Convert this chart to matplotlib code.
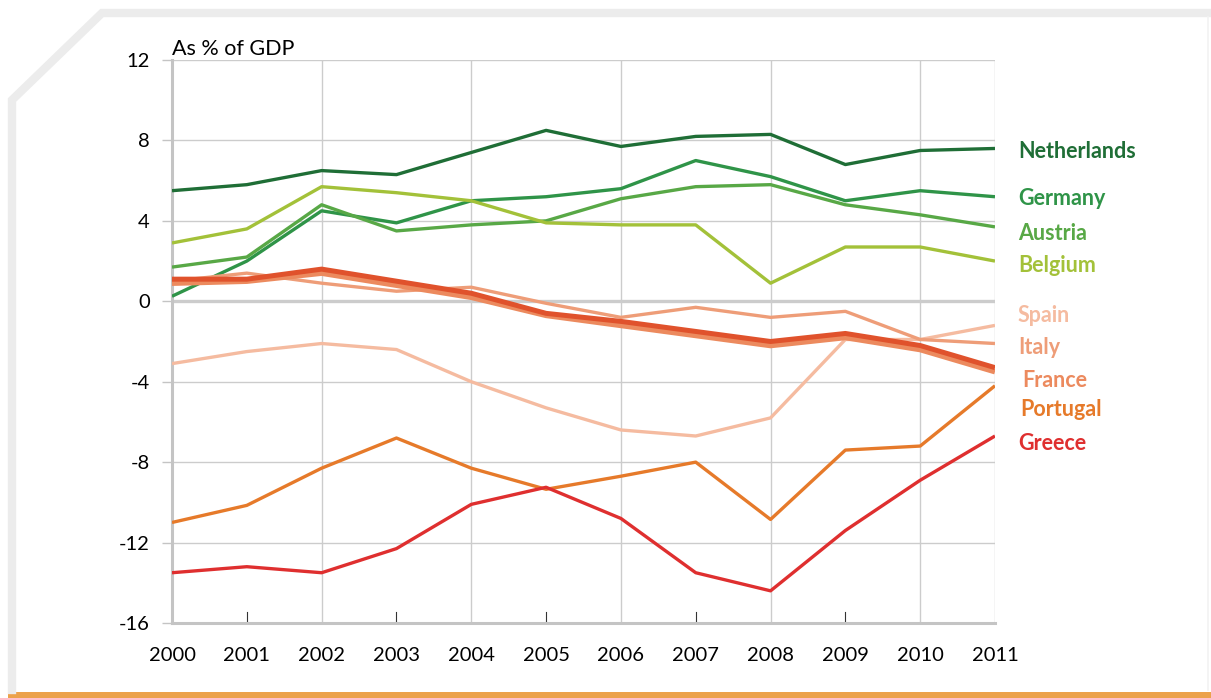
import matplotlib
matplotlib.use("Agg")
import matplotlib.pyplot as plt
from matplotlib.lines import Line2D
from matplotlib.patches import Rectangle

plt.rcParams['font.family'] = ['Lato', 'DejaVu Sans']

years = [2000, 2001, 2002, 2003, 2004, 2005, 2006, 2007, 2008, 2009, 2010, 2011]

netherlands = [5.5, 5.8, 6.5, 6.3, 7.4, 8.5, 7.7, 8.2, 8.3, 6.8, 7.5, 7.6]
germany = [0.25, 2.0, 4.5, 3.9, 5.0, 5.2, 5.6, 7.0, 6.2, 5.0, 5.5, 5.2]
austria = [1.7, 2.2, 4.8, 3.5, 3.8, 4.0, 5.1, 5.7, 5.8, 4.8, 4.3, 3.7]
belgium = [2.9, 3.6, 5.7, 5.4, 5.0, 3.9, 3.8, 3.8, 0.9, 2.7, 2.7, 2.0]
spain = [-3.1, -2.5, -2.1, -2.4, -4.0, -5.3, -6.4, -6.7, -5.8, -1.9, -1.9, -1.2]
italy = [1.0, 1.4, 0.9, 0.5, 0.7, -0.1, -0.8, -0.3, -0.8, -0.5, -1.9, -2.1]
france = [0.9, 1.0, 1.4, 0.8, 0.2, -0.7, -1.2, -1.7, -2.2, -1.8, -2.4, -3.5]
euro_area = [1.1, 1.1, 1.6, 1.0, 0.4, -0.6, -1.0, -1.5, -2.0, -1.6, -2.2, -3.3]
portugal = [-11.0, -10.15, -8.3, -6.8, -8.3, -9.35, -8.7, -8.0, -10.85, -7.4, -7.2, -4.2]
greece = [-13.5, -13.2, -13.5, -12.3, -10.1, -9.25, -10.8, -13.5, -14.4, -11.4, -8.9, -6.7]

y_ticks = [12, 8, 4, 0, -4, -8, -12, -16]
y_tick_labels = ['12', '8', '4', '0', '-4', '-8', '-12', '-16']

series = [
    ('Netherlands', netherlands, '#1f6e36', 2.4),
    ('Germany', germany, '#2f9448', 2.4),
    ('Austria', austria, '#58a846', 2.4),
    ('Belgium', belgium, '#a3c139', 2.4),
    ('Spain', spain, '#f5bba0', 2.4),
    ('Italy', italy, '#ee9d78', 2.4),
    ('France', france, '#ec8a5e', 4.0),
    ('', euro_area, '#e0522c', 3.6),
    ('Portugal', portugal, '#e67a2a', 2.4),
    ('Greece', greece, '#df2f2f', 2.4),
]

label_pos = [
    ('Netherlands', 7.45, '#1f6e36', 1018),
    ('Germany', 5.1, '#2f9448', 1018),
    ('Austria', 3.35, '#58a846', 1018),
    ('Belgium', 1.8, '#a3c139', 1018),
    ('Spain', -0.7, '#f5bba0', 1018),
    ('Italy', -2.3, '#ee9d78', 1018),
    ('France', -3.95, '#ec8a5e', 1022),
    ('Portugal', -5.4, '#e67a2a', 1020),
    ('Greece', -7.05, '#df2f2f', 1018),
]

W, H = 1211, 698
fig = plt.figure(figsize=(W / 100, H / 100), dpi=100)

# decorative frame
frame_col = '#ececec'
fig.add_artist(Line2D([12 / W, 12 / W, 102 / W, 1.0],
                      [1 - 690 / H, 1 - 100 / H, 1 - 13 / H, 1 - 13 / H],
                      transform=fig.transFigure, color=frame_col, lw=6,
                      solid_joinstyle='miter'))
fig.add_artist(Line2D([1208 / W, 1208 / W], [1 - 17 / H, 1 - 690 / H],
                      transform=fig.transFigure, color='#f2f2f2', lw=1.2))
fig.add_artist(Rectangle((8 / W, 0), 1 - 8 / W, 6 / H, transform=fig.transFigure,
                         color='#eca24b', lw=0))

ax = fig.add_axes([172 / W, 1 - 623 / H, 823 / W, 563 / H])
ax.set_xlim(2000, 2011)
ax.set_ylim(-16, 12)

grid_col = '#cccccc'
for yv in y_ticks:
    if yv == 0:
        ax.axhline(yv, color=grid_col, lw=2.4, zorder=1)
    elif yv != -16:
        ax.axhline(yv, color=grid_col, lw=1.0, zorder=1)
for xv in [2002, 2004, 2006, 2008, 2010, 2011]:
    ax.axvline(xv, color=grid_col, lw=1.0, zorder=1)

for name, vals, col, lw in series:
    ax.plot(years, vals, color=col, lw=lw, zorder=3, solid_capstyle='butt')

for s in ['top', 'right']:
    ax.spines[s].set_visible(False)
ax.spines['left'].set_color('#c4c4c4')
ax.spines['left'].set_linewidth(2.2)
ax.spines['bottom'].set_color('#c4c4c4')
ax.spines['bottom'].set_linewidth(2.2)

ax.set_yticks(y_ticks)
ax.set_yticklabels(y_tick_labels, fontsize=14.5)
ax.tick_params(axis='y', length=7, width=1, color='#c4c4c4', pad=9)
ax.set_xticks(years)
ax.set_xticklabels([str(y) for y in years], fontsize=14.5)
ax.tick_params(axis='x', length=0, pad=17)
for xv in [2001, 2003, 2005, 2007, 2009]:
    ax.plot([xv, xv], [-16, -15.45], color='#333333', lw=0.8, zorder=2)

fig.text(172 / W, 1 - 55 / H, 'As % of GDP', fontsize=15.5, ha='left', va='baseline')

for name, yv, col, xpix in label_pos:
    ax.text(2011 + (xpix - 995) / (823 / 11), yv, name, color=col, fontsize=15.5,
            fontweight='bold', ha='left', va='center', clip_on=False)

fig.savefig('out.png', dpi=100)
